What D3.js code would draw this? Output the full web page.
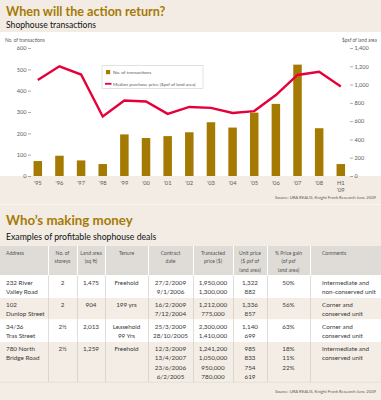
<!DOCTYPE html>
<html><head><meta charset="utf-8">
<script src="https://cdn.jsdelivr.net/npm/d3@7"></script>
<style>
html,body{margin:0;padding:0;background:#fff;}
svg{display:block;font-family:Lato,"Open Sans",sans-serif;}
</style></head>
<body><svg id="c" width="381" height="400"></svg>
<script>
// ---- data ----
const years = ["'95","'96","'97","'98","'99","'00","'01","'02","'03","'04","'05","'06","'07","'08","H1|'09"];
const transactions = [70,95,73,56,195,178,187,205,252,227,297,338,522,224,56];
const medianPrice = [1050,1200,1110,650,825,815,680,755,745,690,710,885,1105,1140,980];
const leftTicks = [0,100,200,300,400,500,600];
const rightTicks = [0,200,400,600,800,1000,1200,1400];

const tableHeaders = [
  ["Address"],["No. of","storeys"],["Land area","(sq ft)"],["Tenure"],["Contract","date"],
  ["Transacted","price ($)"],["Unit price","($ psf of","land area)"],["% Price gain","(of psf","land area)"],["Comments"]
];
const addresses = [["232 River","Valley Road"],["102","Dunlop Street"],["34/36","Tras Street"],["780 North","Bridge Road"]];
const storeys = [["2"],["2"],["2½"],["2½"]];
const landArea = [["1,475"],["904"],["2,013"],["1,259"]];
const tenure = [["Freehold"],["199 yrs"],["Leasehold","99 Yrs"],["Freehold"]];
const contractDates = [["27/2/2009","9/1/2006"],["16/2/2009","7/12/2004"],["25/3/2009","28/10/2005"],["12/3/2009","13/4/2007","23/6/2006","6/2/2005"]];
const transactedPrices = [["1,950,000","1,300,000"],["1,212,000","775,000"],["2,300,000","1,410,000"],["1,241,200","1,050,000","950,000","780,000"]];
const unitPrices = [["1,322","882"],["1,336","857"],["1,140","699"],["985","833","754","619"]];
const priceGains = [["50%"],["56%"],["63%"],["18%","11%","22%"]];
const comments = [["Intermediate and","non-conserved unit"],["Corner and","conserved unit"],["Corner and","conserved unit"],["Intermediate and","conserved unit"]];

// ---- style ----
const BEIGE = "#f2ece4", GOLD = "#a67a05", BAR = "#a47a02", RED = "#e6003b", GRAYTXT = "#5a5a5a";
const svg = d3.select("#c");

// header band
svg.append("rect").attr("x",0).attr("y",0).attr("width",381).attr("height",32).attr("fill",BEIGE);
svg.append("text").attr("x",6).attr("y",16).attr("fill",GOLD).attr("font-weight",700).attr("font-size",12.6).text("When will the action return?");
svg.append("text").attr("x",6).attr("y",28).attr("fill","#111").attr("font-size",8.6).text("Shophouse transactions");

// chart
const yTop = 48, yBase = 176;
const x = d3.scalePoint().domain(years).range([37.8,340.8]);
const yL = d3.scaleLinear().domain([0,600]).range([yBase,yTop]);
const yR = d3.scaleLinear().domain([0,1400]).range([yBase,yTop]);

// lower band
svg.append("rect").attr("x",0).attr("y",yBase).attr("width",381).attr("height",246-yBase).attr("fill",BEIGE);
svg.append("line").attr("x1",0).attr("x2",381).attr("y1",204.5).attr("y2",204.5).attr("stroke","#faf7f3").attr("stroke-width",1);

svg.append("text").attr("x",5).attr("y",42).attr("font-size",4.8).attr("fill",GRAYTXT).text("No. of transactions");
svg.append("text").attr("x",377).attr("y",42).attr("text-anchor","end").attr("font-size",4.8).attr("fill",GRAYTXT).text("$psf of land area");

const axL = svg.append("g").attr("transform","translate(31,0)")
  .call(d3.axisLeft(yL).tickValues(leftTicks).tickSize(3).tickPadding(1.5).tickFormat(d3.format(",")));
const axR = svg.append("g").attr("transform","translate(350,0)")
  .call(d3.axisRight(yR).tickValues(rightTicks).tickSize(3).tickPadding(1.5).tickFormat(d3.format(",")));
[axL,axR].forEach(a=>{
  a.select(".domain").remove();
  a.selectAll("line").attr("stroke","#777").attr("stroke-width",0.6);
  a.selectAll("text").attr("font-size",5.6).attr("fill",GRAYTXT).attr("font-family","Lato,sans-serif");
});

const bw = 8.5;
svg.append("g").selectAll("rect").data(transactions).join("rect")
  .attr("x",(d,i)=>x(years[i])-bw/2).attr("width",bw)
  .attr("y",d=>yL(d)).attr("height",d=>yBase-yL(d)).attr("fill",BAR);

svg.append("path").datum(medianPrice)
  .attr("d",d3.line().x((d,i)=>x(years[i])).y(d=>yR(d)))
  .attr("fill","none").attr("stroke",RED).attr("stroke-width",2.4).attr("stroke-linejoin","miter");

// x labels
const xl = svg.append("g").selectAll("text").data(years).join("text")
  .attr("x",d=>x(d)).attr("y",184.5).attr("text-anchor","middle").attr("font-size",5.8).attr("fill",GRAYTXT);
xl.each(function(d){
  const parts = d.split("|");
  d3.select(this).selectAll("tspan").data(parts).join("tspan")
    .attr("x",x(d)).attr("dy",(p,j)=>j?7:0).text(p=>p);
});

// legend
const lg = svg.append("g");
lg.append("rect").attr("x",102).attr("y",65.5).attr("width",101).attr("height",23).attr("fill","#fff").attr("stroke","#cfcfcf").attr("stroke-width",0.6);
lg.append("rect").attr("x",106).attr("y",70).attr("width",4.2).attr("height",4.2).attr("fill",BAR);
lg.append("text").attr("x",113).attr("y",73.8).attr("font-size",4.6).attr("fill",GRAYTXT).text("No. of transactions");
lg.append("line").attr("x1",105).attr("x2",111.5).attr("y1",83.8).attr("y2",83.8).attr("stroke",RED).attr("stroke-width",1.8);
lg.append("text").attr("x",113).attr("y",85.6).attr("font-size",4.6).attr("fill",GRAYTXT).text("Median purchase price ($psf of land area)");

svg.append("text").attr("x",376).attr("y",199).attr("text-anchor","end").attr("font-size",4.2).attr("fill",GRAYTXT).text("Source: URA REALIS, Knight Frank Research June 2009");

// second section
svg.append("text").attr("x",6).attr("y",225).attr("fill",GOLD).attr("font-weight",700).attr("font-size",13.3).text("Who’s making money");
svg.append("text").attr("x",6).attr("y",240).attr("fill","#111").attr("font-size",8.7).text("Examples of profitable shophouse deals");

// table
const colEdges = [0,48,77,105,148,193,233,267,310,381];
const aligns = ["start","middle","middle","middle","middle","middle","middle","middle","start"];
const leftPad = [6,0,0,0,0,0,0,0,12];
const colX = i => aligns[i]==="start" ? colEdges[i]+leftPad[i] : (colEdges[i]+colEdges[i+1])/2;
const rowsY = [246,275.5,298,319.5,342,382];
const columns = [addresses,storeys,landArea,tenure,contractDates,transactedPrices,unitPrices,priceGains,comments];

svg.append("rect").attr("x",0).attr("y",rowsY[0]).attr("width",381).attr("height",rowsY[1]-rowsY[0]).attr("fill","#dfdcd8");
for(let r=0;r<4;r++){
  svg.append("rect").attr("x",0).attr("y",rowsY[r+1]).attr("width",381).attr("height",rowsY[r+2]-rowsY[r+1]).attr("fill",r%2? "#f3ede6":"#fff");
}
svg.append("rect").attr("x",0).attr("y",382).attr("width",381).attr("height",18).attr("fill","#f3ede6");
svg.append("line").attr("x1",0).attr("x2",381).attr("y1",382.3).attr("y2",382.3).attr("stroke","#e2dbd2").attr("stroke-width",0.7);
svg.append("line").attr("x1",0).attr("x2",381).attr("y1",275.5).attr("y2",275.5).attr("stroke","#fff").attr("stroke-width",1);

// column dividers
colEdges.slice(1,-1).forEach(cx=>{
  svg.append("line").attr("x1",cx+0.5).attr("x2",cx+0.5).attr("y1",rowsY[0]).attr("y2",rowsY[1]).attr("stroke","#fff").attr("stroke-width",1);
  svg.append("line").attr("x1",cx+0.5).attr("x2",cx+0.5).attr("y1",rowsY[1]).attr("y2",382).attr("stroke","#cdc6bd").attr("stroke-width",0.6);
});

// header texts
tableHeaders.forEach((lines,i)=>{
  const t = svg.append("text").attr("x",colX(i)).attr("y",255).attr("text-anchor",aligns[i]).attr("font-size",5.1).attr("fill","#555");
  lines.forEach((l,j)=>t.append("tspan").attr("x",colX(i)).attr("dy",j?8.4:0).text(l));
});

// body texts
columns.forEach((col,i)=>{
  col.forEach((cell,r)=>{
    const t = svg.append("text").attr("x",colX(i)).attr("y",rowsY[r+1]+9).attr("text-anchor",aligns[i]).attr("font-size",6.3).attr("fill","#3a3a3a");
    cell.forEach((l,j)=>t.append("tspan").attr("x",colX(i)).attr("dy",j?9.4:0).text(l));
  });
});

svg.append("text").attr("x",376).attr("y",392.5).attr("text-anchor","end").attr("font-size",4.2).attr("fill",GRAYTXT).text("Source: URA REALIS, Knight Frank Research June 2009");
</script></body></html>
